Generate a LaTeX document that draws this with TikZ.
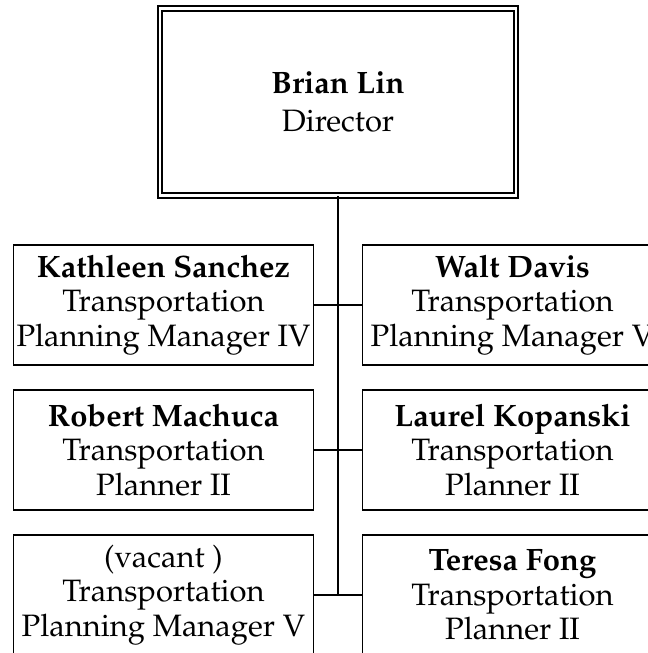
\documentclass[tikz,border=0pt]{standalone}
\usepackage[T1]{fontenc}
\usepackage{mathpazo}
\usetikzlibrary{positioning}

\tikzset{
  staff/.style={draw,line width=1.4pt,minimum width=7.5cm,minimum height=3cm,
    inner sep=0pt,align=center,font=\fontsize{22}{24.5}\selectfont},
  chief/.style={staff,double,double distance=2.1pt,minimum width=8.9cm,
    minimum height=4.675cm,font=\fontsize{22}{27}\selectfont},
  link/.style={line width=1.4pt}
}

\begin{document}
\begin{tikzpicture}
  \useasboundingbox (0,0) rectangle (16.2,16.325);
  \clip (0,0) rectangle (16.2,16.325);
  % director
  \node[chief] (lin) at (8.45,13.775) {\textbf{Brian Lin}\\Director};
  % left column
  \node[staff] (sanchez) at (4.0875,8.7) {\textbf{Kathleen Sanchez}\\Transportation\\Planning Manager IV};
  \node[staff] (machuca) at (4.0875,5.075) {\textbf{Robert Machuca}\\Transportation\\Planner II};
  \node[staff] (vacant) at (4.0875,1.45) {(vacant )\\Transportation\\Planning Manager V};
  % right column
  \node[staff] (davis) at (12.8125,8.7) {\textbf{Walt Davis}\\Transportation\\Planning Manager V};
  \node[staff] (kopanski) at (12.8125,5.075) {\textbf{Laurel Kopanski}\\Transportation\\Planner II};
  \node[staff] (fong) at (12.8125,1.45) {\textbf{Teresa Fong}\\Transportation\\Planner II};
  % connectors
  \draw[link] (lin.south) -- (lin.south |- fong.west);
  \draw[link] (sanchez.east) -- (davis.west);
  \draw[link] (machuca.east) -- (kopanski.west);
  \draw[link] (vacant.east) -- (fong.west);
\end{tikzpicture}
\end{document}
